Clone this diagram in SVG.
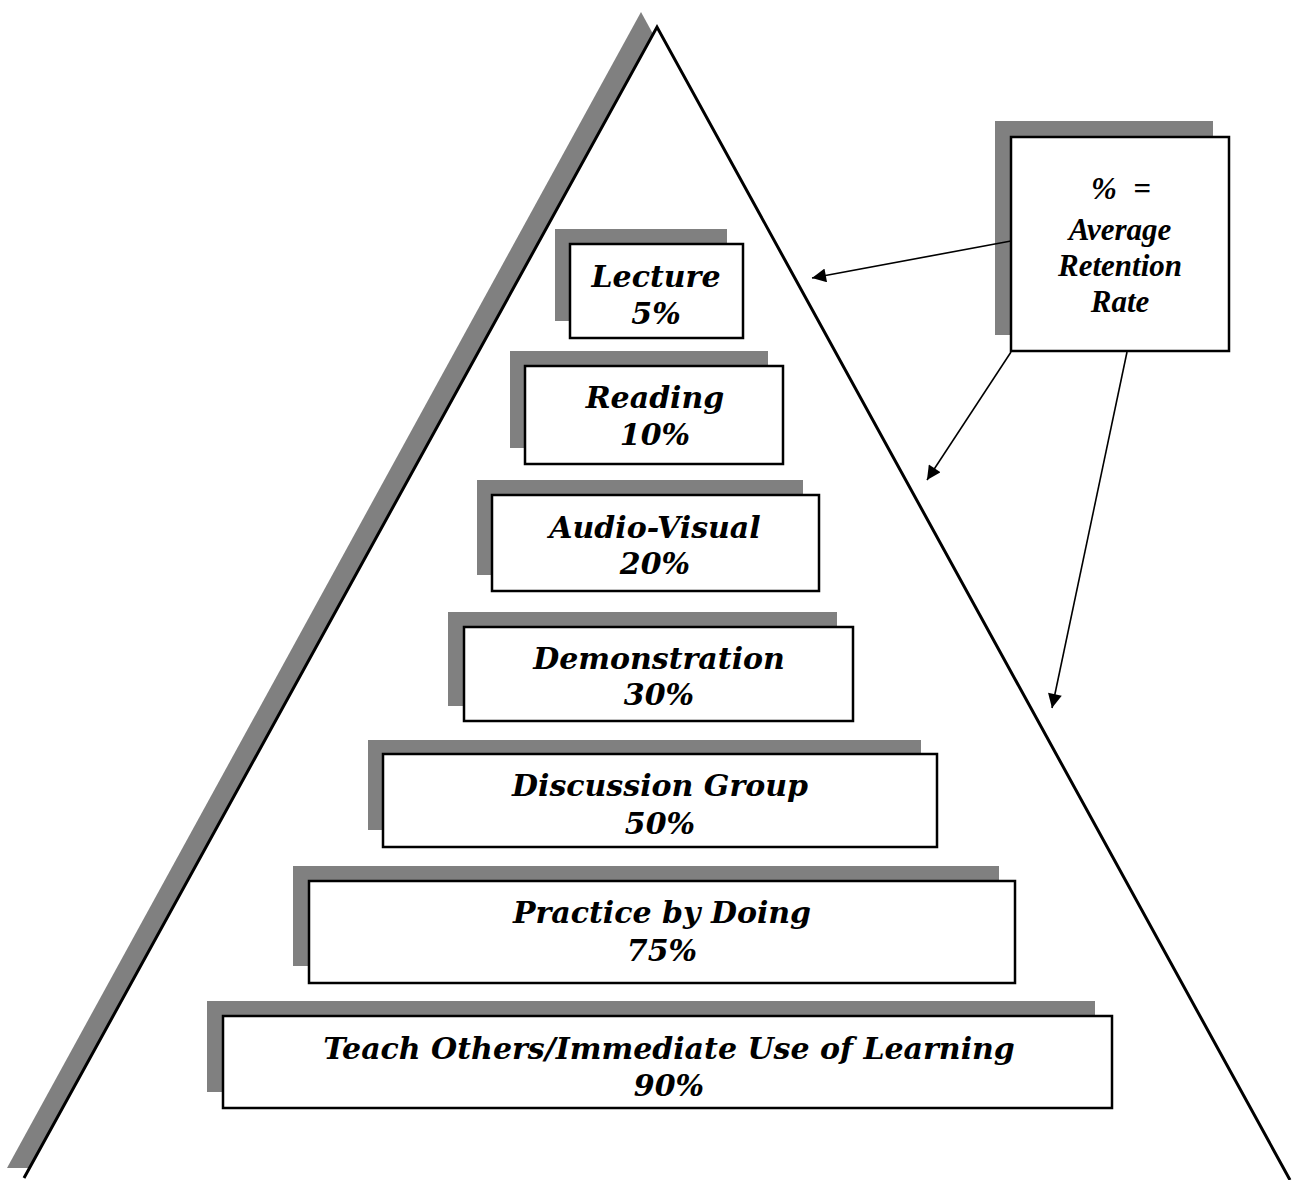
<svg xmlns="http://www.w3.org/2000/svg" width="1292" height="1180" viewBox="0 0 1292 1180">
  <style>
    .shadow { fill: #808080; stroke: none; }
    .box { fill: #ffffff; stroke: #000000; stroke-width: 2.5; }
    .lbl { font-family: "DejaVu Serif", "Liberation Serif", serif; font-weight: bold; font-style: italic; font-size: 30px; fill: #000; text-anchor: middle; }
    .key { font-family: "Liberation Serif", "Times New Roman", serif; font-weight: bold; font-style: italic; font-size: 31px; fill: #000; text-anchor: middle; }
    .conn { stroke: #000; stroke-width: 1.6; fill: none; }
  </style>
  <defs>
    <marker id="arrowL" viewBox="0 0 10 10" refX="10" refY="5" markerWidth="16" markerHeight="14" markerUnits="userSpaceOnUse" orient="auto">
      <path d="M0,0 L10,5 L0,10 z" fill="#000"/>
    </marker>
  </defs>

  <rect width="1292" height="1180" fill="#ffffff"/>

  <!-- pyramid with drop shadow -->
  <g id="pyramid">
    <polygon class="shadow" points="641,12 7,1168 1272,1168"/>
    <polyline points="24,1178 657,27 1290,1180" fill="#ffffff" stroke="#000" stroke-width="3"/>
  </g>

  <!-- tiers -->
  <g id="lecture">
    <rect class="shadow" x="555" y="229" width="172" height="92"/>
    <rect class="box" x="570" y="244" width="173" height="94"/>
    <text class="lbl" x="656" y="287">Lecture</text>
    <text class="lbl" x="656" y="324">5%</text>
  </g>
  <g id="reading">
    <rect class="shadow" x="510" y="351" width="258" height="97"/>
    <rect class="box" x="525" y="366" width="258" height="98"/>
    <text class="lbl" x="655" y="408">Reading</text>
    <text class="lbl" x="655" y="445">10%</text>
  </g>
  <g id="audio-visual">
    <rect class="shadow" x="477" y="480" width="326" height="95"/>
    <rect class="box" x="492" y="495" width="327" height="96"/>
    <text class="lbl" x="655" y="538">Audio-Visual</text>
    <text class="lbl" x="655" y="574">20%</text>
  </g>
  <g id="demonstration">
    <rect class="shadow" x="448" y="612" width="389" height="94"/>
    <rect class="box" x="464" y="627" width="389" height="94"/>
    <text class="lbl" x="659" y="669">Demonstration</text>
    <text class="lbl" x="659" y="705">30%</text>
  </g>
  <g id="discussion-group">
    <rect class="shadow" x="368" y="740" width="553" height="90"/>
    <rect class="box" x="383" y="754" width="554" height="93"/>
    <text class="lbl" x="660" y="796">Discussion Group</text>
    <text class="lbl" x="660" y="834">50%</text>
  </g>
  <g id="practice-by-doing">
    <rect class="shadow" x="293" y="866" width="706" height="100"/>
    <rect class="box" x="309" y="881" width="706" height="102"/>
    <text class="lbl" x="662" y="923">Practice by Doing</text>
    <text class="lbl" x="662" y="961">75%</text>
  </g>
  <g id="teach-others">
    <rect class="shadow" x="207" y="1001" width="888" height="91"/>
    <rect class="box" x="223" y="1016" width="889" height="92"/>
    <text class="lbl" x="669" y="1059">Teach Others/Immediate Use of Learning</text>
    <text class="lbl" x="669" y="1096">90%</text>
  </g>

  <!-- legend -->
  <g id="legend">
    <rect class="shadow" x="995" y="121" width="218" height="214"/>
    <rect class="box" x="1011" y="137" width="218" height="214"/>
    <text class="key" y="199"><tspan x="1104">%</tspan><tspan x="1142">=</tspan></text>
    <text class="key" x="1120" y="240">Average</text>
    <text class="key" x="1120" y="276">Retention</text>
    <text class="key" x="1120" y="312">Rate</text>
  </g>

  <!-- connectors -->
  <g id="connectors">
    <line class="conn" x1="1011" y1="241" x2="812" y2="278" marker-end="url(#arrowL)"/>
    <line class="conn" x1="1011" y1="352" x2="927" y2="480" marker-end="url(#arrowL)"/>
    <line class="conn" x1="1127" y1="352" x2="1052" y2="708" marker-end="url(#arrowL)"/>
  </g>
</svg>
